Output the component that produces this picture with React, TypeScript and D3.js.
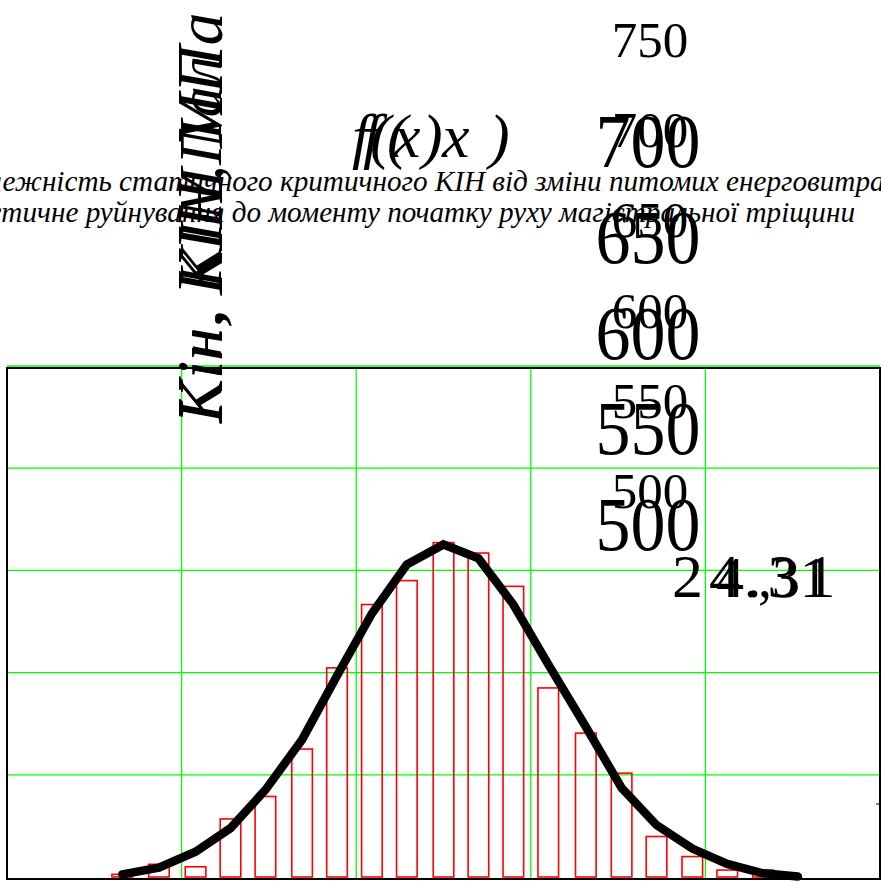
import React from 'react';
import * as d3 from 'd3';

// histogram bins (centres) and their heights
const binCenters = [16.6, 18.7, 20.8, 22.8, 24.8, 26.9, 28.9, 30.9, 32.9, 35.0, 37.0, 39.0, 41.0, 43.15, 45.2, 47.2, 49.25, 51.25, 53.3];
const binValues = [0.13, 0.62, 0.5, 2.84, 3.94, 6.26, 10.23, 13.33, 14.5, 16.36, 15.85, 14.22, 9.25, 7.04, 5.08, 1.98, 1.0, 0.34, 0.34];

// fitted density f(x)
const curveX = [16.6, 18.7, 20.8, 22.8, 24.8, 26.9, 28.9, 30.9, 32.9, 35.0, 37.0, 39.0, 41.0, 43.15, 45.2, 47.2, 49.25, 51.25, 53.3, 55.3];
const curveY = [0.13, 0.46, 1.24, 2.39, 4.26, 6.72, 9.85, 12.89, 15.29, 16.27, 15.59, 13.33, 10.4, 7.35, 4.36, 2.54, 1.39, 0.64, 0.18, 0.02];

const xGrid = [20, 30, 40, 50];
const yGrid = [5, 10, 15, 20, 25];

const smallLabels = [750, 700, 650, 600, 550, 500];
const bigLabels = [700, 650, 600, 550, 500];

const titleLines = [
  'Залежність статичного критичного КІН від зміни питомих енерговитрат на',
  'пластичне руйнування до моменту початку руху магістральної тріщини',
];

const serif = '"Liberation Serif", "Times New Roman", serif';

const App: React.FC = () => {
  const width = 881;
  const height = 888;
  const frame = { left: 7, right: 880, top: 368, bottom: 879 };

  const x = d3.scaleLinear().domain([10, 60]).range([frame.left, frame.right]);
  const y = d3.scaleLinear().domain([0, 25]).range([877, 366]);
  const halfBar = 0.59;

  const line = d3
    .line<number>()
    .x((_, i) => x(curveX[i]))
    .y(d => y(d));

  const smallY = d3.scaleLinear().domain([750, 500]).range([57, 508]);
  const bigY = d3.scaleLinear().domain([700, 500]).range([167, 550]);

  return (
    <svg
      width={width}
      height={height}
      style={{ position: 'absolute', left: 0, top: 0, background: '#fff' }}
    >
      <rect x={0} y={0} width={width} height={height} fill="#fff" />

      {/* grid */}
      {xGrid.map(v => (
        <line key={'gx' + v} x1={x(v)} x2={x(v)} y1={frame.top} y2={frame.bottom} stroke="#00ff00" strokeWidth={1.3} />
      ))}
      {yGrid.map(v => (
        <line key={'gy' + v} x1={frame.left} x2={frame.right} y1={y(v)} y2={y(v)} stroke="#00ff00" strokeWidth={1.3} />
      ))}

      {/* histogram */}
      {binValues.map((v, i) => (
        <rect
          key={'b' + i}
          x={x(binCenters[i] - halfBar)}
          y={y(v)}
          width={x(binCenters[i] + halfBar) - x(binCenters[i] - halfBar)}
          height={y(0) - y(v)}
          fill="none"
          stroke="#ff0000"
          strokeWidth={1.6}
        />
      ))}

      {/* frame */}
      <rect
        x={frame.left}
        y={frame.top}
        width={frame.right - frame.left}
        height={frame.bottom - frame.top}
        fill="none"
        stroke="#000"
        strokeWidth={2}
      />
      <line x1={876} x2={881} y1={804} y2={804} stroke="#000" strokeWidth={1} />

      {/* density curve */}
      <path d={line(curveY) || ''} fill="none" stroke="#000" strokeWidth={8.5} strokeLinecap="round" strokeLinejoin="miter" />

      {/* title */}
      <g fontFamily={serif} fontStyle="italic" fill="#000">
        <text x={-40} y={191} fontSize={29.2}>{titleLines[0]}</text>
        <text x={855} y={222} fontSize={29.2} textAnchor="end">{titleLines[1]}</text>
      </g>

      {/* axis labels jumbled by the source */}
      <g fontFamily={serif} fontStyle="italic" fill="#000">
        <text transform="translate(222,423) rotate(-90)" fontSize={66}>Kін, KIН, МПа</text>
        <text transform="translate(221,423) rotate(-90)" fontSize={62} letterSpacing={3}>Kін, KIМПал</text>
        <text fontSize={62} y={157} x="352 370 393 422">f(x)</text>
        <text fontSize={62} y={157} x="363 387 442 489">f(x)</text>
      </g>

      <g fontFamily={serif} fill="#000" textAnchor="middle">
        {smallLabels.map(v => (
          <text key={'s' + v} x={650} y={smallY(v)} fontSize={51}>{v}</text>
        ))}
        {bigLabels.map(v => (
          <text key={'g' + v} transform={`translate(648,${bigY(v)}) scale(1,1.1)`} fontSize={70}>{v}</text>
        ))}
      </g>
      <g fontFamily={serif} fill="#000">
        <text x={672} y={597} fontSize={62} letterSpacing={6}>24.31</text>
        <text x={716} y={597} fontSize={56}>4.,31</text>
      </g>
    </svg>
  );
};

export default App;
